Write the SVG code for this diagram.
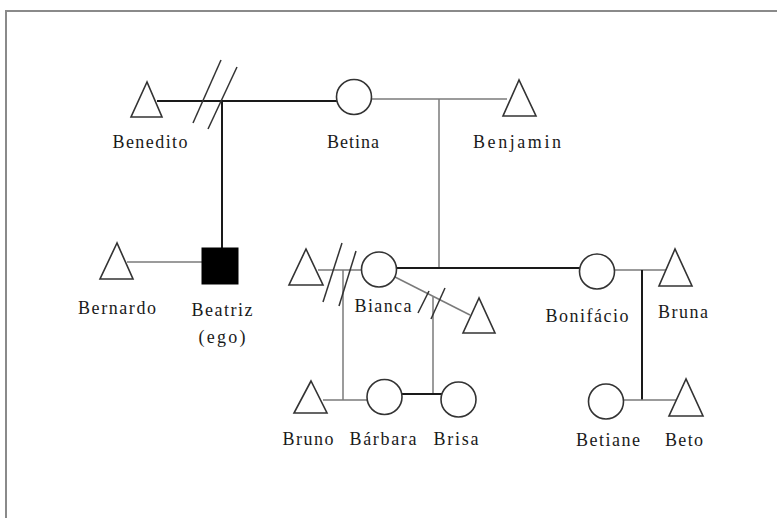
<svg xmlns="http://www.w3.org/2000/svg" width="777" height="518" viewBox="0 0 777 518">
  <style>
    .frame { fill: none; stroke: #8a8a8a; stroke-width: 2; }
    .sym { fill: #fff; stroke: #333; stroke-width: 1.6; }
    .ego { fill: #000; stroke: #000; stroke-width: 1; }
    .bond { fill: none; stroke: #1a1a1a; stroke-width: 2; }
    .link { fill: none; stroke: #7a7a7a; stroke-width: 1.5; }
    .cut { fill: none; stroke: #333; stroke-width: 1.5; }
    text { font-family: "Liberation Serif", "Times New Roman", serif; font-size: 18px; fill: #1a1a1a; text-anchor: middle; }
  </style>
  <rect width="777" height="518" fill="#fff"/>
  <path class="frame" d="M6,518 V11 H777"/>

  <g id="connectors">
    <!-- Benedito - Betina (divorced) and descent to Beatriz -->
    <line class="bond" x1="157" y1="101" x2="337" y2="101"/>
    <line class="bond" x1="222" y1="101" x2="222" y2="248"/>
    <line class="cut" x1="193" y1="123" x2="221" y2="60"/>
    <line class="cut" x1="208" y1="129" x2="237" y2="67"/>
    <!-- Betina - Benjamin and descent -->
    <line class="link" x1="371" y1="99" x2="507" y2="99"/>
    <line class="link" x1="439" y1="99" x2="439" y2="268"/>
    <!-- Bernardo - Beatriz -->
    <line class="link" x1="127" y1="262" x2="202" y2="262"/>
    <!-- left partner - Bianca (divorced) and descent to Bruno/Bárbara -->
    <line class="link" x1="318" y1="270" x2="362" y2="270"/>
    <line class="link" x1="343" y1="270" x2="343" y2="400"/>
    <line class="cut" x1="323" y1="302" x2="342" y2="243"/>
    <line class="cut" x1="339" y1="306" x2="356" y2="251"/>
    <!-- Bianca - Bonifácio -->
    <line class="bond" x1="396" y1="268" x2="580" y2="268"/>
    <!-- Bianca - right partner (divorced) and descent to Brisa -->
    <line class="link" x1="395" y1="277" x2="470" y2="315"/>
    <line class="link" x1="433" y1="297" x2="433" y2="394"/>
    <line class="cut" x1="418" y1="313" x2="429" y2="291"/>
    <line class="cut" x1="431" y1="319" x2="445" y2="288"/>
    <!-- Bonifácio - Bruna and descent -->
    <line class="link" x1="614" y1="270" x2="666" y2="270"/>
    <line class="bond" x1="642" y1="270" x2="642" y2="400"/>
    <!-- Bruno - Bárbara -->
    <line class="link" x1="323" y1="400" x2="367" y2="400"/>
    <!-- Bárbara - Brisa -->
    <line class="bond" x1="401" y1="394" x2="442" y2="394"/>
    <!-- Betiane - Beto -->
    <line class="link" x1="623" y1="400" x2="676" y2="400"/>
  </g>

  <g id="benedito">
    <polygon class="sym" points="147,82 131,117 162,117"/>
    <text x="150" y="148" textLength="75" lengthAdjust="spacing">Benedito</text>
  </g>
  <g id="betina">
    <circle class="sym" cx="354" cy="97" r="17.5"/>
    <text x="353" y="148" textLength="52" lengthAdjust="spacing">Betina</text>
  </g>
  <g id="benjamin">
    <polygon class="sym" points="519,80 503,116 536,116"/>
    <text x="517" y="148" textLength="88" lengthAdjust="spacing">Benjamin</text>
  </g>
  <g id="bernardo">
    <polygon class="sym" points="117,243 100,279 133,279"/>
    <text x="117" y="314" textLength="78" lengthAdjust="spacing">Bernardo</text>
  </g>
  <g id="beatriz">
    <rect class="ego" x="202" y="248" width="36" height="36"/>
    <text x="222" y="316" textLength="61" lengthAdjust="spacing">Beatriz</text>
    <text x="222" y="343" textLength="47" lengthAdjust="spacing">(ego)</text>
  </g>
  <g id="bianca-ex1">
    <polygon class="sym" points="306,249 289,285 323,285"/>
  </g>
  <g id="bianca">
    <circle class="sym" cx="379" cy="269.5" r="17.5"/>
    <text x="383" y="312" textLength="57" lengthAdjust="spacing">Bianca</text>
  </g>
  <g id="bianca-ex2">
    <polygon class="sym" points="479,298 463,333 495,333"/>
  </g>
  <g id="bonifacio">
    <circle class="sym" cx="597" cy="271.5" r="17.5"/>
    <text x="587" y="322" textLength="83" lengthAdjust="spacing">Bonifácio</text>
  </g>
  <g id="bruna">
    <polygon class="sym" points="675,249 659,286 692,286"/>
    <text x="683" y="318" textLength="50" lengthAdjust="spacing">Bruna</text>
  </g>
  <g id="bruno">
    <polygon class="sym" points="311,381 294,413 327,413"/>
    <text x="308" y="445" textLength="51" lengthAdjust="spacing">Bruno</text>
  </g>
  <g id="barbara">
    <circle class="sym" cx="384.5" cy="397" r="17.5"/>
    <text x="383" y="445" textLength="67" lengthAdjust="spacing">Bárbara</text>
  </g>
  <g id="brisa">
    <circle class="sym" cx="458.5" cy="399.5" r="17.5"/>
    <text x="456" y="445" textLength="45" lengthAdjust="spacing">Brisa</text>
  </g>
  <g id="betiane">
    <circle class="sym" cx="606" cy="401.5" r="17.5"/>
    <text x="608" y="446" textLength="64" lengthAdjust="spacing">Betiane</text>
  </g>
  <g id="beto">
    <polygon class="sym" points="686,379 669,416 703,416"/>
    <text x="684" y="446" textLength="38" lengthAdjust="spacing">Beto</text>
  </g>
</svg>
